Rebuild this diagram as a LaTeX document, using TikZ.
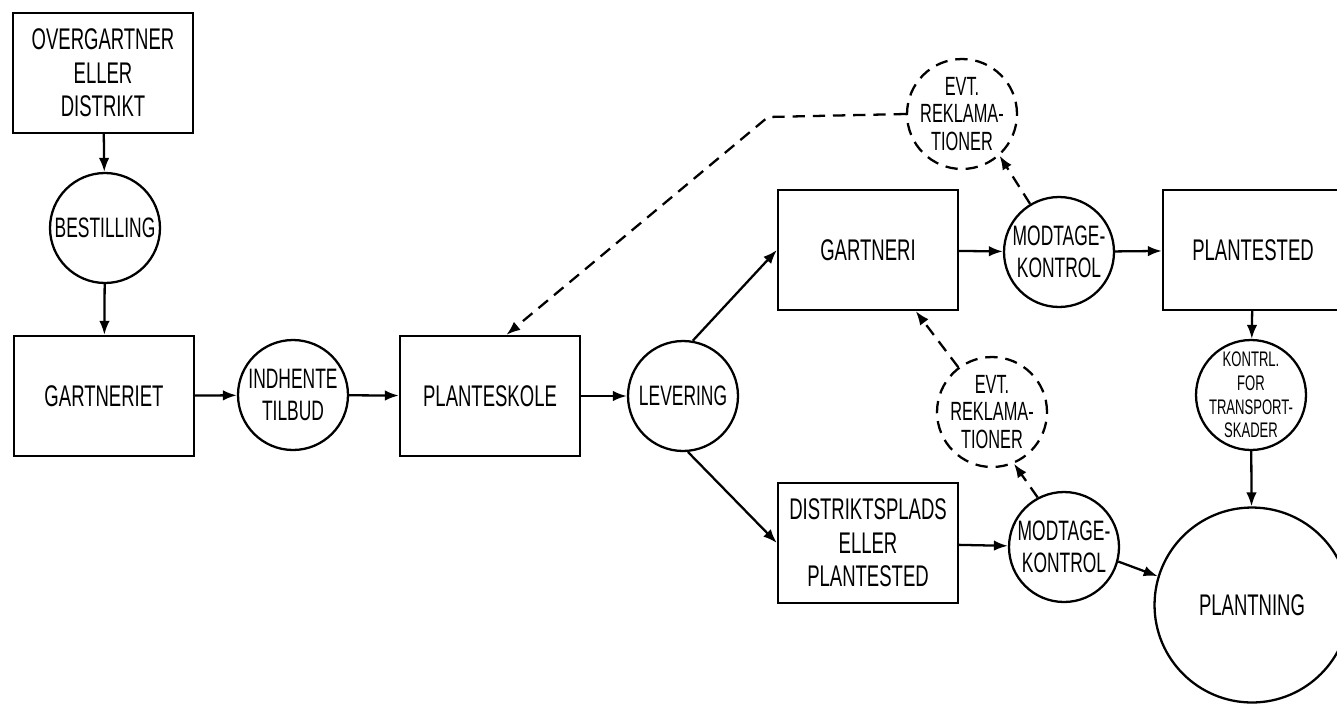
\documentclass[tikz,border=0pt]{standalone}
\usepackage{fontspec}
\setmainfont{Liberation Sans}[FakeStretch=0.62]
\usepackage{tikz}
\usetikzlibrary{arrows.meta}

\begin{document}
\begin{tikzpicture}[x=0.02cm, y=-0.02cm, line width=1.3pt, >={Latex[length=2.8mm,width=2.1mm]},
    bnode/.style={draw,rectangle,minimum width=3.6cm,minimum height=2.4cm,align=center,font=\fontsize{17}{19}\selectfont},
    cnode/.style={draw,circle,minimum size=2.2cm,inner sep=0pt},
    dnode/.style={cnode,dash pattern=on 7pt off 4.5pt},
    ctext/.style={align=center,font=\fontsize{16}{18}\selectfont},
    dline/.style={dash pattern=on 7pt off 4.5pt}]
    \useasboundingbox (0,0) rectangle (1337,703);
    \clip (0,0) rectangle (1337,703);

    \node[bnode] (over) at (103,73) {OVERGARTNER\\ELLER\\DISTRIKT};
    \node[cnode, label={[ctext]center:BESTILLING}] (best) at (105,228) {};
    \node[bnode] (gartneriet) at (104,396) {GARTNERIET};
    \node[cnode, label={[ctext]center:INDHENTE\\TILBUD}] (indh) at (293,395) {};
    \node[bnode] (skole) at (490,396) {PLANTESKOLE};
    \node[cnode, label={[ctext]center:LEVERING}] (lev) at (683,396) {};
    \node[bnode] (gartneri) at (868,250) {GARTNERI};
    \node[bnode] (distr) at (868,543) {DISTRIKTSPLADS\\ELLER\\PLANTESTED};
    \node[cnode, label={[ctext]center:MODTAGE-\\KONTROL}] (mod1) at (1059,252) {};
    \node[cnode, label={[ctext]center:MODTAGE-\\KONTROL}] (mod2) at (1064,547) {};
    \node[dnode, label={[ctext,font=\fontsize{15}{15.5}\selectfont]center:EVT.\\REKLAMA-\\TIONER}] (evt1) at (962,114) {};
    \node[dnode, label={[ctext,font=\fontsize{15}{15.5}\selectfont]center:EVT.\\REKLAMA-\\TIONER}] (evt2) at (992,412) {};
    \node[bnode] (sted) at (1253,250) {PLANTESTED};
    \node[cnode, label={[ctext,font=\fontsize{12}{13.5}\selectfont]center:KONTRL.\\FOR\\TRANSPORT-\\SKADER}] (kontrl) at (1251,395) {};
    \node[cnode, minimum size=3.9cm, label={[ctext,font=\fontsize{17}{19}\selectfont]center:PLANTNING}] (plant) at (1252,605) {};
    \coordinate (knaek) at (768,117);

    \draw[->] (over) -- (best);
    \draw[->] (best) -- (gartneriet);
    \draw[->] (gartneriet) -- (indh);
    \draw[->] (indh) -- (skole);
    \draw[->] (skole) -- (lev);
    \draw[->] (lev.80) -- (gartneri.west);
    \draw[->] (lev.-85) -- (distr.west);
    \draw[->] (gartneri) -- (mod1);
    \draw[->] (mod1) -- (sted);
    \draw[->] (distr) -- (mod2);
    \draw[->] (mod2.-15) -- (plant.163);
    \draw[->] (sted) -- (kontrl);
    \draw[->] (kontrl) -- (plant);
    % eventuelle reklamationer
    \draw[->, dline] (mod1.121) -- (evt1.-48);
    \draw[->, dline] (mod2.118) -- (evt2.-67);
    \draw[->, dline] (evt2.127) -- (gartneri.-52);
    \draw[->, dline] (evt1.west) -- (knaek) -- (skole.75);
\end{tikzpicture}
\end{document}
